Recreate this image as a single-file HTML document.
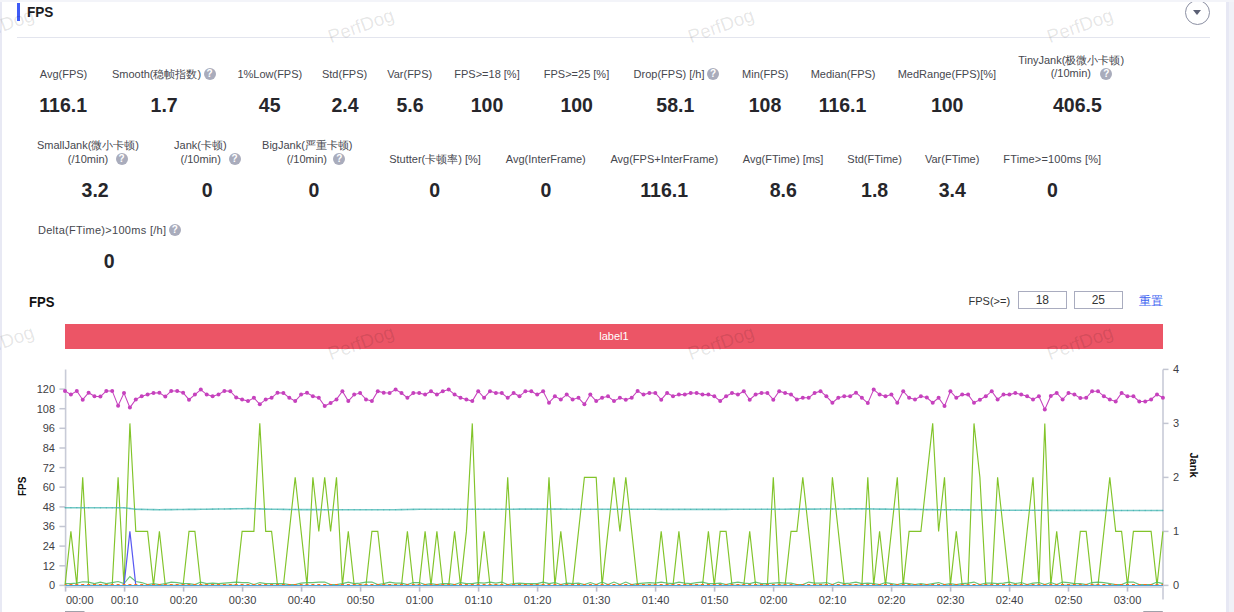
<!DOCTYPE html>
<html><head><meta charset="utf-8">
<style>
*{margin:0;padding:0;box-sizing:border-box}
html,body{width:1234px;height:612px;overflow:hidden;background:#f0f1f7;font-family:"Liberation Sans",sans-serif}
#card{position:absolute;left:2px;top:2px;width:1224px;height:612px;background:#fff}
#tstrip{position:absolute;left:0;top:0;width:1234px;height:2px;background:#f3f4f9}
#lstrip{position:absolute;left:0;top:2px;width:2px;height:610px;background:#e8e9f4}
#rstrip{position:absolute;left:1226px;top:2px;width:3px;height:610px;background:#e7e8f4}
.abs{position:absolute}
#bar{position:absolute;left:17px;top:3px;width:3px;height:18px;background:#3f5bf6}
#title{position:absolute;left:26.8px;top:3.4px;font-size:15px;transform:scaleX(0.905);transform-origin:0 0;font-weight:bold;color:#1d1d1f;line-height:18px}
#hr{position:absolute;left:17px;top:37px;width:1193px;height:1px;background:#e3e5ee}
#circ{position:absolute;left:1185px;top:-0.5px;width:25px;height:25px;border:1px solid #8c90a3;border-radius:50%}
#tri{position:absolute;left:1193px;top:10px;width:0;height:0;border-left:4px solid transparent;border-right:4px solid transparent;border-top:5px solid #5b6075}
.lb{position:absolute;text-align:center;font-size:11px;line-height:14px;color:#46474e;white-space:nowrap}
.vl{position:absolute;text-align:center;font-size:19.5px;line-height:22px;font-weight:bold;color:#26262b;white-space:nowrap}
.q{display:inline-block;width:12px;height:12px;border-radius:50%;background:#a9acbc;color:#fff;font-size:10px;font-weight:bold;line-height:12px;text-align:center;margin-left:2.5px;vertical-align:top;position:relative;top:0.8px}
.qa{position:absolute;margin:0}
#ctitle{position:absolute;left:29.2px;top:293px;transform:scaleX(0.845);transform-origin:0 0;font-size:15.5px;font-weight:bold;color:#111;line-height:18px}
#fpsge{position:absolute;left:968.5px;top:294px;font-size:11px;line-height:14px;color:#333}
.inp{position:absolute;top:291.2px;width:48.5px;height:17.8px;border:1px solid #a9acbf;font-size:12px;line-height:17.5px;text-align:center;color:#333}
#reset{position:absolute;left:1138.5px;top:294px;font-size:12px;line-height:15px;color:#3d63f0}
#lbar{position:absolute;left:65px;top:324.3px;width:1098px;height:24.7px;background:#ec5566;color:#fff;font-size:11px;line-height:24px;text-align:center}
svg{position:absolute;left:0;top:0}
.ax{font-size:11px;fill:#3e3e44}
.axn{font-size:11px;font-weight:bold;fill:#111}
.wm{position:absolute;font-size:18.7px;color:rgba(0,0,0,0.105);transform:rotate(-19.5deg);transform-origin:0 100%;white-space:nowrap;line-height:20px;pointer-events:none}
</style></head><body>
<div id="card"></div>
<div id="rstrip"></div><div id="lstrip"></div>
<div id="bar"></div><div id="title">FPS</div>
<div id="circ"></div><div id="tri"></div><div id="tstrip"></div>
<div id="hr"></div>
<div class="lb" style="left:-56.5px;top:67.3px;width:240px">Avg(FPS)</div>
<div class="vl" style="left:3.2px;top:94.0px;width:120px">116.1</div>
<div class="lb" style="left:43.8px;top:67.3px;width:240px">Smooth(稳帧指数)<span class="q">?</span></div>
<div class="vl" style="left:104.1px;top:94.0px;width:120px">1.7</div>
<div class="lb" style="left:149.8px;top:67.3px;width:240px">1%Low(FPS)</div>
<div class="vl" style="left:209.7px;top:94.0px;width:120px">45</div>
<div class="lb" style="left:224.6px;top:67.3px;width:240px">Std(FPS)</div>
<div class="vl" style="left:285.0px;top:94.0px;width:120px">2.4</div>
<div class="lb" style="left:289.7px;top:67.3px;width:240px">Var(FPS)</div>
<div class="vl" style="left:350.0px;top:94.0px;width:120px">5.6</div>
<div class="lb" style="left:367.0px;top:67.3px;width:240px">FPS&gt;=18 [%]</div>
<div class="vl" style="left:427.0px;top:94.0px;width:120px">100</div>
<div class="lb" style="left:456.5px;top:67.3px;width:240px">FPS&gt;=25 [%]</div>
<div class="vl" style="left:516.7px;top:94.0px;width:120px">100</div>
<div class="lb" style="left:556.3px;top:67.3px;width:240px">Drop(FPS) [/h]<span class="q">?</span></div>
<div class="vl" style="left:615.3px;top:94.0px;width:120px">58.1</div>
<div class="lb" style="left:645.3px;top:67.3px;width:240px">Min(FPS)</div>
<div class="vl" style="left:705.0px;top:94.0px;width:120px">108</div>
<div class="lb" style="left:723.1px;top:67.3px;width:240px">Median(FPS)</div>
<div class="vl" style="left:782.5px;top:94.0px;width:120px">116.1</div>
<div class="lb" style="left:826.9px;top:67.3px;width:240px">MedRange(FPS)[%]</div>
<div class="vl" style="left:887.2px;top:94.0px;width:120px">100</div>
<div class="lb" style="left:951.1px;top:52.7px;width:240px">TinyJank(极微小卡顿)</div>
<div class="lb" style="left:950.8px;top:66.4px;width:240px">(/10min)</div>
<span class="q qa" style="left:1100.4px;top:67.8px">?</span>
<div class="vl" style="left:1017.4px;top:94.0px;width:120px">406.5</div>
<div class="lb" style="left:-32.0px;top:137.7px;width:240px">SmallJank(微小卡顿)</div>
<div class="lb" style="left:-32.0px;top:151.9px;width:240px">(/10min)</div>
<span class="q qa" style="left:115.6px;top:152.9px">?</span>
<div class="vl" style="left:35.1px;top:179.4px;width:120px">3.2</div>
<div class="lb" style="left:80.4px;top:137.7px;width:240px">Jank(卡顿)</div>
<div class="lb" style="left:80.7px;top:151.9px;width:240px">(/10min)</div>
<span class="q qa" style="left:228.5px;top:152.9px">?</span>
<div class="vl" style="left:147.2px;top:179.4px;width:120px">0</div>
<div class="lb" style="left:187.3px;top:137.7px;width:240px">BigJank(严重卡顿)</div>
<div class="lb" style="left:186.8px;top:151.9px;width:240px">(/10min)</div>
<span class="q qa" style="left:333.4px;top:152.9px">?</span>
<div class="vl" style="left:254.0px;top:179.4px;width:120px">0</div>
<div class="lb" style="left:315.0px;top:152.4px;width:240px">Stutter(卡顿率) [%]</div>
<div class="vl" style="left:374.7px;top:179.4px;width:120px">0</div>
<div class="lb" style="left:425.8px;top:152.4px;width:240px">Avg(InterFrame)</div>
<div class="vl" style="left:485.9px;top:179.4px;width:120px">0</div>
<div class="lb" style="left:544.3px;top:152.4px;width:240px">Avg(FPS+InterFrame)</div>
<div class="vl" style="left:604.2px;top:179.4px;width:120px">116.1</div>
<div class="lb" style="left:663.1px;top:152.4px;width:240px">Avg(FTime) [ms]</div>
<div class="vl" style="left:723.3px;top:179.4px;width:120px">8.6</div>
<div class="lb" style="left:754.6px;top:152.4px;width:240px">Std(FTime)</div>
<div class="vl" style="left:814.6px;top:179.4px;width:120px">1.8</div>
<div class="lb" style="left:832.2px;top:152.4px;width:240px">Var(FTime)</div>
<div class="vl" style="left:892.3px;top:179.4px;width:120px">3.4</div>
<div class="lb" style="left:932.3px;top:152.4px;width:240px"><span style="letter-spacing:0.15px">FTime&gt;=100ms [%]</span></div>
<div class="vl" style="left:992.5px;top:179.4px;width:120px">0</div>
<div class="lb" style="left:-10.6px;top:223.1px;width:240px"><span style="letter-spacing:0.3px">Delta(FTime)&gt;100ms [/h]</span><span class="q">?</span></div>
<div class="vl" style="left:49.3px;top:250.3px;width:120px">0</div>
<div id="ctitle">FPS</div>
<div id="fpsge">FPS(&gt;=)</div>
<div class="inp" style="left:1018.1px">18</div>
<div class="inp" style="left:1074.1px">25</div>
<div id="reset">重置</div>
<div id="lbar">label1</div>
<svg width="1234" height="612" viewBox="0 0 1234 612">
<line x1="65.6" y1="369.5" x2="65.6" y2="587.5" stroke="#c8cbd7" stroke-width="1.6"/>
<line x1="1163" y1="369.4" x2="1163" y2="599.6" stroke="#c8cbd7" stroke-width="1.6"/>
<line x1="64.8" y1="587" x2="1163.8" y2="587" stroke="#d9dae3" stroke-width="1.8"/>
<line x1="59.4" y1="585.4" x2="65.6" y2="585.4" stroke="#c3c6d2" stroke-width="1.5"/>
<text x="55" y="589.3" text-anchor="end" class="ax">0</text>
<line x1="59.4" y1="565.8" x2="65.6" y2="565.8" stroke="#c3c6d2" stroke-width="1.5"/>
<text x="55" y="569.7" text-anchor="end" class="ax">12</text>
<line x1="59.4" y1="546.1" x2="65.6" y2="546.1" stroke="#c3c6d2" stroke-width="1.5"/>
<text x="55" y="550.0" text-anchor="end" class="ax">24</text>
<line x1="59.4" y1="526.5" x2="65.6" y2="526.5" stroke="#c3c6d2" stroke-width="1.5"/>
<text x="55" y="530.4" text-anchor="end" class="ax">36</text>
<line x1="59.4" y1="506.9" x2="65.6" y2="506.9" stroke="#c3c6d2" stroke-width="1.5"/>
<text x="55" y="510.8" text-anchor="end" class="ax">48</text>
<line x1="59.4" y1="487.2" x2="65.6" y2="487.2" stroke="#c3c6d2" stroke-width="1.5"/>
<text x="55" y="491.1" text-anchor="end" class="ax">60</text>
<line x1="59.4" y1="467.6" x2="65.6" y2="467.6" stroke="#c3c6d2" stroke-width="1.5"/>
<text x="55" y="471.5" text-anchor="end" class="ax">72</text>
<line x1="59.4" y1="448.0" x2="65.6" y2="448.0" stroke="#c3c6d2" stroke-width="1.5"/>
<text x="55" y="451.9" text-anchor="end" class="ax">84</text>
<line x1="59.4" y1="428.3" x2="65.6" y2="428.3" stroke="#c3c6d2" stroke-width="1.5"/>
<text x="55" y="432.2" text-anchor="end" class="ax">96</text>
<line x1="59.4" y1="408.7" x2="65.6" y2="408.7" stroke="#c3c6d2" stroke-width="1.5"/>
<text x="55" y="412.6" text-anchor="end" class="ax">108</text>
<line x1="59.4" y1="389.1" x2="65.6" y2="389.1" stroke="#c3c6d2" stroke-width="1.5"/>
<text x="55" y="393.0" text-anchor="end" class="ax">120</text>
<line x1="1163" y1="585.4" x2="1168.5" y2="585.4" stroke="#c3c6d2" stroke-width="1.5"/>
<text x="1173" y="589.3" class="ax">0</text>
<line x1="1163" y1="531.4" x2="1168.5" y2="531.4" stroke="#c3c6d2" stroke-width="1.5"/>
<text x="1173" y="535.3" class="ax">1</text>
<line x1="1163" y1="477.4" x2="1168.5" y2="477.4" stroke="#c3c6d2" stroke-width="1.5"/>
<text x="1173" y="481.3" class="ax">2</text>
<line x1="1163" y1="423.4" x2="1168.5" y2="423.4" stroke="#c3c6d2" stroke-width="1.5"/>
<text x="1173" y="427.3" class="ax">3</text>
<line x1="1163" y1="369.4" x2="1168.5" y2="369.4" stroke="#c3c6d2" stroke-width="1.5"/>
<text x="1173" y="373.3" class="ax">4</text>
<line x1="65.6" y1="586.6" x2="65.6" y2="591.6" stroke="#b9bccb" stroke-width="1.6"/>
<text x="66" y="604" class="ax">00:00</text>
<line x1="124.6" y1="586.6" x2="124.6" y2="591.6" stroke="#b9bccb" stroke-width="1.6"/>
<text x="124.6" y="604" text-anchor="middle" class="ax">00:10</text>
<line x1="183.6" y1="586.6" x2="183.6" y2="591.6" stroke="#b9bccb" stroke-width="1.6"/>
<text x="183.6" y="604" text-anchor="middle" class="ax">00:20</text>
<line x1="242.6" y1="586.6" x2="242.6" y2="591.6" stroke="#b9bccb" stroke-width="1.6"/>
<text x="242.6" y="604" text-anchor="middle" class="ax">00:30</text>
<line x1="301.6" y1="586.6" x2="301.6" y2="591.6" stroke="#b9bccb" stroke-width="1.6"/>
<text x="301.6" y="604" text-anchor="middle" class="ax">00:40</text>
<line x1="360.6" y1="586.6" x2="360.6" y2="591.6" stroke="#b9bccb" stroke-width="1.6"/>
<text x="360.6" y="604" text-anchor="middle" class="ax">00:50</text>
<line x1="419.6" y1="586.6" x2="419.6" y2="591.6" stroke="#b9bccb" stroke-width="1.6"/>
<text x="419.6" y="604" text-anchor="middle" class="ax">01:00</text>
<line x1="478.6" y1="586.6" x2="478.6" y2="591.6" stroke="#b9bccb" stroke-width="1.6"/>
<text x="478.6" y="604" text-anchor="middle" class="ax">01:10</text>
<line x1="537.6" y1="586.6" x2="537.6" y2="591.6" stroke="#b9bccb" stroke-width="1.6"/>
<text x="537.6" y="604" text-anchor="middle" class="ax">01:20</text>
<line x1="596.6" y1="586.6" x2="596.6" y2="591.6" stroke="#b9bccb" stroke-width="1.6"/>
<text x="596.6" y="604" text-anchor="middle" class="ax">01:30</text>
<line x1="655.6" y1="586.6" x2="655.6" y2="591.6" stroke="#b9bccb" stroke-width="1.6"/>
<text x="655.6" y="604" text-anchor="middle" class="ax">01:40</text>
<line x1="714.6" y1="586.6" x2="714.6" y2="591.6" stroke="#b9bccb" stroke-width="1.6"/>
<text x="714.6" y="604" text-anchor="middle" class="ax">01:50</text>
<line x1="773.6" y1="586.6" x2="773.6" y2="591.6" stroke="#b9bccb" stroke-width="1.6"/>
<text x="773.6" y="604" text-anchor="middle" class="ax">02:00</text>
<line x1="832.6" y1="586.6" x2="832.6" y2="591.6" stroke="#b9bccb" stroke-width="1.6"/>
<text x="832.6" y="604" text-anchor="middle" class="ax">02:10</text>
<line x1="891.6" y1="586.6" x2="891.6" y2="591.6" stroke="#b9bccb" stroke-width="1.6"/>
<text x="891.6" y="604" text-anchor="middle" class="ax">02:20</text>
<line x1="950.6" y1="586.6" x2="950.6" y2="591.6" stroke="#b9bccb" stroke-width="1.6"/>
<text x="950.6" y="604" text-anchor="middle" class="ax">02:30</text>
<line x1="1009.6" y1="586.6" x2="1009.6" y2="591.6" stroke="#b9bccb" stroke-width="1.6"/>
<text x="1009.6" y="604" text-anchor="middle" class="ax">02:40</text>
<line x1="1068.5" y1="586.6" x2="1068.5" y2="591.6" stroke="#b9bccb" stroke-width="1.6"/>
<text x="1068.5" y="604" text-anchor="middle" class="ax">02:50</text>
<line x1="1127.5" y1="586.6" x2="1127.5" y2="591.6" stroke="#b9bccb" stroke-width="1.6"/>
<text x="1127.5" y="604" text-anchor="middle" class="ax">03:00</text>
<polyline points="65.0,585.4 70.9,531.4 76.8,585.4 82.7,477.4 88.6,585.4 94.5,585.4 100.4,585.4 106.3,585.4 112.2,585.4 118.1,477.4 124.0,585.4 129.9,423.4 135.8,531.4 141.7,531.4 147.6,531.4 153.5,585.4 159.4,531.4 165.3,585.4 171.2,585.4 177.2,585.4 183.1,585.4 189.0,531.4 194.9,531.4 200.8,585.4 206.7,585.4 212.6,585.4 218.5,585.4 224.4,585.4 230.3,585.4 236.2,585.4 242.1,531.4 248.0,531.4 253.9,531.4 259.8,423.4 265.7,531.4 271.6,531.4 277.5,585.4 283.4,585.4 289.3,531.4 295.2,477.4 301.1,531.4 307.0,585.4 312.9,477.4 318.8,531.4 324.7,477.4 330.6,531.4 336.5,477.4 342.4,585.4 348.3,531.4 354.2,585.4 360.1,585.4 366.0,585.4 371.9,531.4 377.8,531.4 383.7,585.4 389.6,585.4 395.6,585.4 401.5,585.4 407.4,531.4 413.3,585.4 419.2,585.4 425.1,531.4 431.0,585.4 436.9,531.4 442.8,585.4 448.7,585.4 454.6,531.4 460.5,585.4 466.4,531.4 472.3,423.4 478.2,585.4 484.1,531.4 490.0,585.4 495.9,585.4 501.8,585.4 507.7,477.4 513.6,585.4 519.5,585.4 525.4,585.4 531.3,585.4 537.2,585.4 543.1,585.4 549.0,477.4 554.9,585.4 560.8,531.4 566.7,585.4 572.6,585.4 578.5,531.4 584.4,477.4 590.3,477.4 596.2,477.4 602.1,585.4 608.0,531.4 614.0,477.4 619.9,531.4 625.8,477.4 631.7,531.4 637.6,585.4 643.5,585.4 649.4,585.4 655.3,585.4 661.2,531.4 667.1,585.4 673.0,585.4 678.9,531.4 684.8,585.4 690.7,585.4 696.6,585.4 702.5,585.4 708.4,531.4 714.3,585.4 720.2,531.4 726.1,531.4 732.0,585.4 737.9,585.4 743.8,585.4 749.7,531.4 755.6,585.4 761.5,585.4 767.4,585.4 773.3,477.4 779.2,585.4 785.1,585.4 791.0,531.4 796.9,531.4 802.8,477.4 808.7,531.4 814.6,585.4 820.5,585.4 826.4,585.4 832.4,477.4 838.3,531.4 844.2,585.4 850.1,585.4 856.0,585.4 861.9,585.4 867.8,477.4 873.7,585.4 879.6,531.4 885.5,585.4 891.4,531.4 897.3,477.4 903.2,585.4 909.1,531.4 915.0,531.4 920.9,531.4 926.8,477.4 932.7,423.4 938.6,531.4 944.5,477.4 950.4,585.4 956.3,531.4 962.2,585.4 968.1,585.4 974.0,423.4 979.9,477.4 985.8,585.4 991.7,585.4 997.6,477.4 1003.5,531.4 1009.4,585.4 1015.3,585.4 1021.2,585.4 1027.1,531.4 1033.0,477.4 1038.9,585.4 1044.8,423.4 1050.8,585.4 1056.7,531.4 1062.6,585.4 1068.5,585.4 1074.4,585.4 1080.3,531.4 1086.2,531.4 1092.1,585.4 1098.0,585.4 1103.9,531.4 1109.8,477.4 1115.7,531.4 1121.6,531.4 1127.5,585.4 1133.4,531.4 1139.3,531.4 1145.2,531.4 1151.1,531.4 1157.0,585.4 1162.9,531.4" fill="none" stroke="#82c42a" stroke-width="1.15" stroke-linejoin="miter"/>
<polyline points="65.0,583.6 70.9,583.6 76.8,583.1 82.7,581.8 88.6,582.1 94.5,583.6 100.4,582.1 106.3,583.6 112.2,582.6 118.1,581.5 124.0,583.6 129.9,576.5 135.8,581.5 141.7,582.6 147.6,584.6 153.5,583.6 159.4,584.6 165.3,583.6 171.2,582.1 177.2,582.6 183.1,583.6 189.0,583.6 194.9,584.6 200.8,582.1 206.7,583.6 212.6,583.1 218.5,583.6 224.4,583.1 230.3,582.6 236.2,582.1 242.1,582.6 248.0,582.6 253.9,584.6 259.8,582.6 265.7,583.6 271.6,583.6 277.5,583.6 283.4,583.6 289.3,584.6 295.2,584.6 301.1,583.1 307.0,582.6 312.9,582.6 318.8,582.1 324.7,582.1 330.6,584.6 336.5,584.6 342.4,583.6 348.3,582.1 354.2,583.6 360.1,583.1 366.0,582.1 371.9,582.1 377.8,584.6 383.7,583.6 389.6,582.1 395.6,583.1 401.5,583.1 407.4,584.6 413.3,582.6 419.2,582.6 425.1,584.6 431.0,583.6 436.9,584.6 442.8,583.6 448.7,583.6 454.6,584.6 460.5,582.6 466.4,583.6 472.3,583.6 478.2,582.6 484.1,583.1 490.0,582.1 495.9,583.1 501.8,582.1 507.7,584.6 513.6,583.6 519.5,583.1 525.4,583.6 531.3,583.6 537.2,583.6 543.1,582.1 549.0,583.6 554.9,582.6 560.8,584.6 566.7,583.1 572.6,583.6 578.5,583.1 584.4,584.6 590.3,582.6 596.2,584.6 602.1,582.1 608.0,584.6 614.0,582.1 619.9,584.6 625.8,582.1 631.7,584.6 637.6,583.6 643.5,583.1 649.4,582.6 655.3,583.1 661.2,582.1 667.1,583.1 673.0,583.6 678.9,582.1 684.8,583.1 690.7,583.6 696.6,582.6 702.5,582.1 708.4,583.6 714.3,583.6 720.2,583.1 726.1,584.6 732.0,583.1 737.9,582.1 743.8,583.1 749.7,583.6 755.6,582.1 761.5,583.6 767.4,583.6 773.3,583.1 779.2,582.6 785.1,583.1 791.0,583.1 796.9,584.6 802.8,584.6 808.7,582.1 814.6,583.1 820.5,583.1 826.4,582.6 832.4,584.6 838.3,582.1 844.2,583.6 850.1,583.1 856.0,582.1 861.9,583.6 867.8,583.1 873.7,583.6 879.6,584.6 885.5,582.6 891.4,583.6 897.3,584.6 903.2,583.1 909.1,583.6 915.0,584.6 920.9,583.6 926.8,584.6 932.7,583.6 938.6,582.6 944.5,584.6 950.4,583.6 956.3,584.6 962.2,583.6 968.1,583.1 974.0,582.1 979.9,584.6 985.8,583.1 991.7,583.1 997.6,583.6 1003.5,583.1 1009.4,582.1 1015.3,583.6 1021.2,582.6 1027.1,584.6 1033.0,583.1 1038.9,582.6 1044.8,584.6 1050.8,582.6 1056.7,584.6 1062.6,582.1 1068.5,582.6 1074.4,583.6 1080.3,583.6 1086.2,584.6 1092.1,582.6 1098.0,582.1 1103.9,582.6 1109.8,583.6 1115.7,584.6 1121.6,584.6 1127.5,582.1 1133.4,582.1 1139.3,584.6 1145.2,584.6 1151.1,584.6 1157.0,582.1 1162.9,583.6" fill="none" stroke="#4cb860" stroke-width="1.1" stroke-opacity="0.85"/>
<polyline points="124.0,585.4 129.9,531.4 135.8,585.4" fill="none" stroke="#5959f2" stroke-width="1.2"/>
<line x1="65" y1="584.5" x2="1163" y2="584.5" stroke="#ff6d1f" stroke-width="1.1" stroke-dasharray="3,2.9027" stroke-dashoffset="1.5"/>
<line x1="65.6" y1="585.5" x2="1163" y2="585.5" stroke="#4aa3d4" stroke-width="1.1"/>
<polyline points="65.0,507.7 70.9,507.7 76.8,507.7 82.7,507.7 88.6,507.7 94.5,507.8 100.4,507.8 106.3,507.8 112.2,507.8 118.1,507.8 124.0,507.8 129.9,508.5 135.8,509.3 141.7,509.4 147.6,509.5 153.5,509.6 159.4,509.7 165.3,509.6 171.2,509.6 177.2,509.5 183.1,509.5 189.0,509.4 194.9,509.4 200.8,509.3 206.7,509.2 212.6,509.1 218.5,509.0 224.4,509.0 230.3,508.9 236.2,508.8 242.1,508.7 248.0,508.6 253.9,508.7 259.8,508.9 265.7,509.1 271.6,509.2 277.5,509.3 283.4,509.4 289.3,509.5 295.2,509.5 301.1,509.6 307.0,509.6 312.9,509.6 318.8,509.6 324.7,509.7 330.6,509.7 336.5,509.7 342.4,509.7 348.3,509.7 354.2,509.7 360.1,509.7 366.0,509.7 371.9,509.8 377.8,509.8 383.7,509.8 389.6,509.8 395.6,509.7 401.5,509.6 407.4,509.5 413.3,509.4 419.2,509.3 425.1,509.3 431.0,509.3 436.9,509.3 442.8,509.3 448.7,509.3 454.6,509.2 460.5,509.2 466.4,509.2 472.3,509.2 478.2,509.2 484.1,509.2 490.0,509.2 495.9,509.2 501.8,509.2 507.7,509.2 513.6,509.2 519.5,509.1 525.4,509.1 531.3,509.1 537.2,509.1 543.1,509.1 549.0,509.1 554.9,509.1 560.8,509.1 566.7,509.2 572.6,509.2 578.5,509.2 584.4,509.2 590.3,509.3 596.2,509.3 602.1,509.3 608.0,509.3 614.0,509.3 619.9,509.3 625.8,509.3 631.7,509.3 637.6,509.3 643.5,509.3 649.4,509.3 655.3,509.3 661.2,509.4 667.1,509.4 673.0,509.4 678.9,509.4 684.8,509.4 690.7,509.4 696.6,509.4 702.5,509.4 708.4,509.4 714.3,509.4 720.2,509.4 726.1,509.4 732.0,509.3 737.9,509.3 743.8,509.3 749.7,509.3 755.6,509.3 761.5,509.2 767.4,509.2 773.3,509.2 779.2,509.2 785.1,509.2 791.0,509.1 796.9,509.1 802.8,509.1 808.7,509.1 814.6,509.1 820.5,509.0 826.4,509.0 832.4,509.0 838.3,509.0 844.2,509.0 850.1,508.9 856.0,508.9 861.9,508.9 867.8,508.9 873.7,509.0 879.6,509.1 885.5,509.1 891.4,509.2 897.3,509.2 903.2,509.3 909.1,509.4 915.0,509.4 920.9,509.5 926.8,509.6 932.7,509.6 938.6,509.7 944.5,509.7 950.4,509.8 956.3,509.8 962.2,509.9 968.1,509.9 974.0,510.0 979.9,510.0 985.8,510.1 991.7,510.1 997.6,510.2 1003.5,510.2 1009.4,510.3 1015.3,510.3 1021.2,510.3 1027.1,510.3 1033.0,510.3 1038.9,510.3 1044.8,510.3 1050.8,510.4 1056.7,510.4 1062.6,510.4 1068.5,510.4 1074.4,510.4 1080.3,510.4 1086.2,510.4 1092.1,510.4 1098.0,510.4 1103.9,510.4 1109.8,510.4 1115.7,510.5 1121.6,510.5 1127.5,510.5 1133.4,510.5 1139.3,510.5 1145.2,510.5 1151.1,510.5 1157.0,510.5 1162.9,510.5" fill="none" stroke="#3db3b0" stroke-opacity="0.72" stroke-width="1.6"/>
<circle cx="65.0" cy="507.7" r="0.65" fill="#2faaa6" fill-opacity="0.6"/>
<circle cx="70.9" cy="507.7" r="0.65" fill="#2faaa6" fill-opacity="0.6"/>
<circle cx="76.8" cy="507.7" r="0.65" fill="#2faaa6" fill-opacity="0.6"/>
<circle cx="82.7" cy="507.7" r="0.65" fill="#2faaa6" fill-opacity="0.6"/>
<circle cx="88.6" cy="507.7" r="0.65" fill="#2faaa6" fill-opacity="0.6"/>
<circle cx="94.5" cy="507.8" r="0.65" fill="#2faaa6" fill-opacity="0.6"/>
<circle cx="100.4" cy="507.8" r="0.65" fill="#2faaa6" fill-opacity="0.6"/>
<circle cx="106.3" cy="507.8" r="0.65" fill="#2faaa6" fill-opacity="0.6"/>
<circle cx="112.2" cy="507.8" r="0.65" fill="#2faaa6" fill-opacity="0.6"/>
<circle cx="118.1" cy="507.8" r="0.65" fill="#2faaa6" fill-opacity="0.6"/>
<circle cx="124.0" cy="507.8" r="0.65" fill="#2faaa6" fill-opacity="0.6"/>
<circle cx="129.9" cy="508.5" r="0.65" fill="#2faaa6" fill-opacity="0.6"/>
<circle cx="135.8" cy="509.3" r="0.65" fill="#2faaa6" fill-opacity="0.6"/>
<circle cx="141.7" cy="509.4" r="0.65" fill="#2faaa6" fill-opacity="0.6"/>
<circle cx="147.6" cy="509.5" r="0.65" fill="#2faaa6" fill-opacity="0.6"/>
<circle cx="153.5" cy="509.6" r="0.65" fill="#2faaa6" fill-opacity="0.6"/>
<circle cx="159.4" cy="509.7" r="0.65" fill="#2faaa6" fill-opacity="0.6"/>
<circle cx="165.3" cy="509.6" r="0.65" fill="#2faaa6" fill-opacity="0.6"/>
<circle cx="171.2" cy="509.6" r="0.65" fill="#2faaa6" fill-opacity="0.6"/>
<circle cx="177.2" cy="509.5" r="0.65" fill="#2faaa6" fill-opacity="0.6"/>
<circle cx="183.1" cy="509.5" r="0.65" fill="#2faaa6" fill-opacity="0.6"/>
<circle cx="189.0" cy="509.4" r="0.65" fill="#2faaa6" fill-opacity="0.6"/>
<circle cx="194.9" cy="509.4" r="0.65" fill="#2faaa6" fill-opacity="0.6"/>
<circle cx="200.8" cy="509.3" r="0.65" fill="#2faaa6" fill-opacity="0.6"/>
<circle cx="206.7" cy="509.2" r="0.65" fill="#2faaa6" fill-opacity="0.6"/>
<circle cx="212.6" cy="509.1" r="0.65" fill="#2faaa6" fill-opacity="0.6"/>
<circle cx="218.5" cy="509.0" r="0.65" fill="#2faaa6" fill-opacity="0.6"/>
<circle cx="224.4" cy="509.0" r="0.65" fill="#2faaa6" fill-opacity="0.6"/>
<circle cx="230.3" cy="508.9" r="0.65" fill="#2faaa6" fill-opacity="0.6"/>
<circle cx="236.2" cy="508.8" r="0.65" fill="#2faaa6" fill-opacity="0.6"/>
<circle cx="242.1" cy="508.7" r="0.65" fill="#2faaa6" fill-opacity="0.6"/>
<circle cx="248.0" cy="508.6" r="0.65" fill="#2faaa6" fill-opacity="0.6"/>
<circle cx="253.9" cy="508.7" r="0.65" fill="#2faaa6" fill-opacity="0.6"/>
<circle cx="259.8" cy="508.9" r="0.65" fill="#2faaa6" fill-opacity="0.6"/>
<circle cx="265.7" cy="509.1" r="0.65" fill="#2faaa6" fill-opacity="0.6"/>
<circle cx="271.6" cy="509.2" r="0.65" fill="#2faaa6" fill-opacity="0.6"/>
<circle cx="277.5" cy="509.3" r="0.65" fill="#2faaa6" fill-opacity="0.6"/>
<circle cx="283.4" cy="509.4" r="0.65" fill="#2faaa6" fill-opacity="0.6"/>
<circle cx="289.3" cy="509.5" r="0.65" fill="#2faaa6" fill-opacity="0.6"/>
<circle cx="295.2" cy="509.5" r="0.65" fill="#2faaa6" fill-opacity="0.6"/>
<circle cx="301.1" cy="509.6" r="0.65" fill="#2faaa6" fill-opacity="0.6"/>
<circle cx="307.0" cy="509.6" r="0.65" fill="#2faaa6" fill-opacity="0.6"/>
<circle cx="312.9" cy="509.6" r="0.65" fill="#2faaa6" fill-opacity="0.6"/>
<circle cx="318.8" cy="509.6" r="0.65" fill="#2faaa6" fill-opacity="0.6"/>
<circle cx="324.7" cy="509.7" r="0.65" fill="#2faaa6" fill-opacity="0.6"/>
<circle cx="330.6" cy="509.7" r="0.65" fill="#2faaa6" fill-opacity="0.6"/>
<circle cx="336.5" cy="509.7" r="0.65" fill="#2faaa6" fill-opacity="0.6"/>
<circle cx="342.4" cy="509.7" r="0.65" fill="#2faaa6" fill-opacity="0.6"/>
<circle cx="348.3" cy="509.7" r="0.65" fill="#2faaa6" fill-opacity="0.6"/>
<circle cx="354.2" cy="509.7" r="0.65" fill="#2faaa6" fill-opacity="0.6"/>
<circle cx="360.1" cy="509.7" r="0.65" fill="#2faaa6" fill-opacity="0.6"/>
<circle cx="366.0" cy="509.7" r="0.65" fill="#2faaa6" fill-opacity="0.6"/>
<circle cx="371.9" cy="509.8" r="0.65" fill="#2faaa6" fill-opacity="0.6"/>
<circle cx="377.8" cy="509.8" r="0.65" fill="#2faaa6" fill-opacity="0.6"/>
<circle cx="383.7" cy="509.8" r="0.65" fill="#2faaa6" fill-opacity="0.6"/>
<circle cx="389.6" cy="509.8" r="0.65" fill="#2faaa6" fill-opacity="0.6"/>
<circle cx="395.6" cy="509.7" r="0.65" fill="#2faaa6" fill-opacity="0.6"/>
<circle cx="401.5" cy="509.6" r="0.65" fill="#2faaa6" fill-opacity="0.6"/>
<circle cx="407.4" cy="509.5" r="0.65" fill="#2faaa6" fill-opacity="0.6"/>
<circle cx="413.3" cy="509.4" r="0.65" fill="#2faaa6" fill-opacity="0.6"/>
<circle cx="419.2" cy="509.3" r="0.65" fill="#2faaa6" fill-opacity="0.6"/>
<circle cx="425.1" cy="509.3" r="0.65" fill="#2faaa6" fill-opacity="0.6"/>
<circle cx="431.0" cy="509.3" r="0.65" fill="#2faaa6" fill-opacity="0.6"/>
<circle cx="436.9" cy="509.3" r="0.65" fill="#2faaa6" fill-opacity="0.6"/>
<circle cx="442.8" cy="509.3" r="0.65" fill="#2faaa6" fill-opacity="0.6"/>
<circle cx="448.7" cy="509.3" r="0.65" fill="#2faaa6" fill-opacity="0.6"/>
<circle cx="454.6" cy="509.2" r="0.65" fill="#2faaa6" fill-opacity="0.6"/>
<circle cx="460.5" cy="509.2" r="0.65" fill="#2faaa6" fill-opacity="0.6"/>
<circle cx="466.4" cy="509.2" r="0.65" fill="#2faaa6" fill-opacity="0.6"/>
<circle cx="472.3" cy="509.2" r="0.65" fill="#2faaa6" fill-opacity="0.6"/>
<circle cx="478.2" cy="509.2" r="0.65" fill="#2faaa6" fill-opacity="0.6"/>
<circle cx="484.1" cy="509.2" r="0.65" fill="#2faaa6" fill-opacity="0.6"/>
<circle cx="490.0" cy="509.2" r="0.65" fill="#2faaa6" fill-opacity="0.6"/>
<circle cx="495.9" cy="509.2" r="0.65" fill="#2faaa6" fill-opacity="0.6"/>
<circle cx="501.8" cy="509.2" r="0.65" fill="#2faaa6" fill-opacity="0.6"/>
<circle cx="507.7" cy="509.2" r="0.65" fill="#2faaa6" fill-opacity="0.6"/>
<circle cx="513.6" cy="509.2" r="0.65" fill="#2faaa6" fill-opacity="0.6"/>
<circle cx="519.5" cy="509.1" r="0.65" fill="#2faaa6" fill-opacity="0.6"/>
<circle cx="525.4" cy="509.1" r="0.65" fill="#2faaa6" fill-opacity="0.6"/>
<circle cx="531.3" cy="509.1" r="0.65" fill="#2faaa6" fill-opacity="0.6"/>
<circle cx="537.2" cy="509.1" r="0.65" fill="#2faaa6" fill-opacity="0.6"/>
<circle cx="543.1" cy="509.1" r="0.65" fill="#2faaa6" fill-opacity="0.6"/>
<circle cx="549.0" cy="509.1" r="0.65" fill="#2faaa6" fill-opacity="0.6"/>
<circle cx="554.9" cy="509.1" r="0.65" fill="#2faaa6" fill-opacity="0.6"/>
<circle cx="560.8" cy="509.1" r="0.65" fill="#2faaa6" fill-opacity="0.6"/>
<circle cx="566.7" cy="509.2" r="0.65" fill="#2faaa6" fill-opacity="0.6"/>
<circle cx="572.6" cy="509.2" r="0.65" fill="#2faaa6" fill-opacity="0.6"/>
<circle cx="578.5" cy="509.2" r="0.65" fill="#2faaa6" fill-opacity="0.6"/>
<circle cx="584.4" cy="509.2" r="0.65" fill="#2faaa6" fill-opacity="0.6"/>
<circle cx="590.3" cy="509.3" r="0.65" fill="#2faaa6" fill-opacity="0.6"/>
<circle cx="596.2" cy="509.3" r="0.65" fill="#2faaa6" fill-opacity="0.6"/>
<circle cx="602.1" cy="509.3" r="0.65" fill="#2faaa6" fill-opacity="0.6"/>
<circle cx="608.0" cy="509.3" r="0.65" fill="#2faaa6" fill-opacity="0.6"/>
<circle cx="614.0" cy="509.3" r="0.65" fill="#2faaa6" fill-opacity="0.6"/>
<circle cx="619.9" cy="509.3" r="0.65" fill="#2faaa6" fill-opacity="0.6"/>
<circle cx="625.8" cy="509.3" r="0.65" fill="#2faaa6" fill-opacity="0.6"/>
<circle cx="631.7" cy="509.3" r="0.65" fill="#2faaa6" fill-opacity="0.6"/>
<circle cx="637.6" cy="509.3" r="0.65" fill="#2faaa6" fill-opacity="0.6"/>
<circle cx="643.5" cy="509.3" r="0.65" fill="#2faaa6" fill-opacity="0.6"/>
<circle cx="649.4" cy="509.3" r="0.65" fill="#2faaa6" fill-opacity="0.6"/>
<circle cx="655.3" cy="509.3" r="0.65" fill="#2faaa6" fill-opacity="0.6"/>
<circle cx="661.2" cy="509.4" r="0.65" fill="#2faaa6" fill-opacity="0.6"/>
<circle cx="667.1" cy="509.4" r="0.65" fill="#2faaa6" fill-opacity="0.6"/>
<circle cx="673.0" cy="509.4" r="0.65" fill="#2faaa6" fill-opacity="0.6"/>
<circle cx="678.9" cy="509.4" r="0.65" fill="#2faaa6" fill-opacity="0.6"/>
<circle cx="684.8" cy="509.4" r="0.65" fill="#2faaa6" fill-opacity="0.6"/>
<circle cx="690.7" cy="509.4" r="0.65" fill="#2faaa6" fill-opacity="0.6"/>
<circle cx="696.6" cy="509.4" r="0.65" fill="#2faaa6" fill-opacity="0.6"/>
<circle cx="702.5" cy="509.4" r="0.65" fill="#2faaa6" fill-opacity="0.6"/>
<circle cx="708.4" cy="509.4" r="0.65" fill="#2faaa6" fill-opacity="0.6"/>
<circle cx="714.3" cy="509.4" r="0.65" fill="#2faaa6" fill-opacity="0.6"/>
<circle cx="720.2" cy="509.4" r="0.65" fill="#2faaa6" fill-opacity="0.6"/>
<circle cx="726.1" cy="509.4" r="0.65" fill="#2faaa6" fill-opacity="0.6"/>
<circle cx="732.0" cy="509.3" r="0.65" fill="#2faaa6" fill-opacity="0.6"/>
<circle cx="737.9" cy="509.3" r="0.65" fill="#2faaa6" fill-opacity="0.6"/>
<circle cx="743.8" cy="509.3" r="0.65" fill="#2faaa6" fill-opacity="0.6"/>
<circle cx="749.7" cy="509.3" r="0.65" fill="#2faaa6" fill-opacity="0.6"/>
<circle cx="755.6" cy="509.3" r="0.65" fill="#2faaa6" fill-opacity="0.6"/>
<circle cx="761.5" cy="509.2" r="0.65" fill="#2faaa6" fill-opacity="0.6"/>
<circle cx="767.4" cy="509.2" r="0.65" fill="#2faaa6" fill-opacity="0.6"/>
<circle cx="773.3" cy="509.2" r="0.65" fill="#2faaa6" fill-opacity="0.6"/>
<circle cx="779.2" cy="509.2" r="0.65" fill="#2faaa6" fill-opacity="0.6"/>
<circle cx="785.1" cy="509.2" r="0.65" fill="#2faaa6" fill-opacity="0.6"/>
<circle cx="791.0" cy="509.1" r="0.65" fill="#2faaa6" fill-opacity="0.6"/>
<circle cx="796.9" cy="509.1" r="0.65" fill="#2faaa6" fill-opacity="0.6"/>
<circle cx="802.8" cy="509.1" r="0.65" fill="#2faaa6" fill-opacity="0.6"/>
<circle cx="808.7" cy="509.1" r="0.65" fill="#2faaa6" fill-opacity="0.6"/>
<circle cx="814.6" cy="509.1" r="0.65" fill="#2faaa6" fill-opacity="0.6"/>
<circle cx="820.5" cy="509.0" r="0.65" fill="#2faaa6" fill-opacity="0.6"/>
<circle cx="826.4" cy="509.0" r="0.65" fill="#2faaa6" fill-opacity="0.6"/>
<circle cx="832.4" cy="509.0" r="0.65" fill="#2faaa6" fill-opacity="0.6"/>
<circle cx="838.3" cy="509.0" r="0.65" fill="#2faaa6" fill-opacity="0.6"/>
<circle cx="844.2" cy="509.0" r="0.65" fill="#2faaa6" fill-opacity="0.6"/>
<circle cx="850.1" cy="508.9" r="0.65" fill="#2faaa6" fill-opacity="0.6"/>
<circle cx="856.0" cy="508.9" r="0.65" fill="#2faaa6" fill-opacity="0.6"/>
<circle cx="861.9" cy="508.9" r="0.65" fill="#2faaa6" fill-opacity="0.6"/>
<circle cx="867.8" cy="508.9" r="0.65" fill="#2faaa6" fill-opacity="0.6"/>
<circle cx="873.7" cy="509.0" r="0.65" fill="#2faaa6" fill-opacity="0.6"/>
<circle cx="879.6" cy="509.1" r="0.65" fill="#2faaa6" fill-opacity="0.6"/>
<circle cx="885.5" cy="509.1" r="0.65" fill="#2faaa6" fill-opacity="0.6"/>
<circle cx="891.4" cy="509.2" r="0.65" fill="#2faaa6" fill-opacity="0.6"/>
<circle cx="897.3" cy="509.2" r="0.65" fill="#2faaa6" fill-opacity="0.6"/>
<circle cx="903.2" cy="509.3" r="0.65" fill="#2faaa6" fill-opacity="0.6"/>
<circle cx="909.1" cy="509.4" r="0.65" fill="#2faaa6" fill-opacity="0.6"/>
<circle cx="915.0" cy="509.4" r="0.65" fill="#2faaa6" fill-opacity="0.6"/>
<circle cx="920.9" cy="509.5" r="0.65" fill="#2faaa6" fill-opacity="0.6"/>
<circle cx="926.8" cy="509.6" r="0.65" fill="#2faaa6" fill-opacity="0.6"/>
<circle cx="932.7" cy="509.6" r="0.65" fill="#2faaa6" fill-opacity="0.6"/>
<circle cx="938.6" cy="509.7" r="0.65" fill="#2faaa6" fill-opacity="0.6"/>
<circle cx="944.5" cy="509.7" r="0.65" fill="#2faaa6" fill-opacity="0.6"/>
<circle cx="950.4" cy="509.8" r="0.65" fill="#2faaa6" fill-opacity="0.6"/>
<circle cx="956.3" cy="509.8" r="0.65" fill="#2faaa6" fill-opacity="0.6"/>
<circle cx="962.2" cy="509.9" r="0.65" fill="#2faaa6" fill-opacity="0.6"/>
<circle cx="968.1" cy="509.9" r="0.65" fill="#2faaa6" fill-opacity="0.6"/>
<circle cx="974.0" cy="510.0" r="0.65" fill="#2faaa6" fill-opacity="0.6"/>
<circle cx="979.9" cy="510.0" r="0.65" fill="#2faaa6" fill-opacity="0.6"/>
<circle cx="985.8" cy="510.1" r="0.65" fill="#2faaa6" fill-opacity="0.6"/>
<circle cx="991.7" cy="510.1" r="0.65" fill="#2faaa6" fill-opacity="0.6"/>
<circle cx="997.6" cy="510.2" r="0.65" fill="#2faaa6" fill-opacity="0.6"/>
<circle cx="1003.5" cy="510.2" r="0.65" fill="#2faaa6" fill-opacity="0.6"/>
<circle cx="1009.4" cy="510.3" r="0.65" fill="#2faaa6" fill-opacity="0.6"/>
<circle cx="1015.3" cy="510.3" r="0.65" fill="#2faaa6" fill-opacity="0.6"/>
<circle cx="1021.2" cy="510.3" r="0.65" fill="#2faaa6" fill-opacity="0.6"/>
<circle cx="1027.1" cy="510.3" r="0.65" fill="#2faaa6" fill-opacity="0.6"/>
<circle cx="1033.0" cy="510.3" r="0.65" fill="#2faaa6" fill-opacity="0.6"/>
<circle cx="1038.9" cy="510.3" r="0.65" fill="#2faaa6" fill-opacity="0.6"/>
<circle cx="1044.8" cy="510.3" r="0.65" fill="#2faaa6" fill-opacity="0.6"/>
<circle cx="1050.8" cy="510.4" r="0.65" fill="#2faaa6" fill-opacity="0.6"/>
<circle cx="1056.7" cy="510.4" r="0.65" fill="#2faaa6" fill-opacity="0.6"/>
<circle cx="1062.6" cy="510.4" r="0.65" fill="#2faaa6" fill-opacity="0.6"/>
<circle cx="1068.5" cy="510.4" r="0.65" fill="#2faaa6" fill-opacity="0.6"/>
<circle cx="1074.4" cy="510.4" r="0.65" fill="#2faaa6" fill-opacity="0.6"/>
<circle cx="1080.3" cy="510.4" r="0.65" fill="#2faaa6" fill-opacity="0.6"/>
<circle cx="1086.2" cy="510.4" r="0.65" fill="#2faaa6" fill-opacity="0.6"/>
<circle cx="1092.1" cy="510.4" r="0.65" fill="#2faaa6" fill-opacity="0.6"/>
<circle cx="1098.0" cy="510.4" r="0.65" fill="#2faaa6" fill-opacity="0.6"/>
<circle cx="1103.9" cy="510.4" r="0.65" fill="#2faaa6" fill-opacity="0.6"/>
<circle cx="1109.8" cy="510.4" r="0.65" fill="#2faaa6" fill-opacity="0.6"/>
<circle cx="1115.7" cy="510.5" r="0.65" fill="#2faaa6" fill-opacity="0.6"/>
<circle cx="1121.6" cy="510.5" r="0.65" fill="#2faaa6" fill-opacity="0.6"/>
<circle cx="1127.5" cy="510.5" r="0.65" fill="#2faaa6" fill-opacity="0.6"/>
<circle cx="1133.4" cy="510.5" r="0.65" fill="#2faaa6" fill-opacity="0.6"/>
<circle cx="1139.3" cy="510.5" r="0.65" fill="#2faaa6" fill-opacity="0.6"/>
<circle cx="1145.2" cy="510.5" r="0.65" fill="#2faaa6" fill-opacity="0.6"/>
<circle cx="1151.1" cy="510.5" r="0.65" fill="#2faaa6" fill-opacity="0.6"/>
<circle cx="1157.0" cy="510.5" r="0.65" fill="#2faaa6" fill-opacity="0.6"/>
<circle cx="1162.9" cy="510.5" r="0.65" fill="#2faaa6" fill-opacity="0.6"/>
<polyline points="65.0,390.9 70.9,394.6 76.8,390.9 82.7,399.7 88.6,392.7 94.5,396.3 100.4,396.6 106.3,390.9 112.2,390.9 118.1,405.7 124.0,393.0 129.9,407.6 135.8,399.4 141.7,396.3 147.6,394.4 153.5,393.0 159.4,392.7 165.3,396.6 171.2,390.9 177.2,390.9 183.1,392.7 189.0,399.7 194.9,394.6 200.8,389.6 206.7,394.6 212.6,396.3 218.5,394.6 224.4,390.9 230.3,391.2 236.2,397.6 242.1,399.4 248.0,401.1 253.9,397.8 259.8,404.3 265.7,399.4 271.6,397.8 277.5,392.7 283.4,393.0 289.3,397.8 295.2,401.1 301.1,394.6 307.0,392.7 312.9,396.3 318.8,397.8 324.7,406.0 330.6,403.0 336.5,399.4 342.4,391.2 348.3,401.1 354.2,394.6 360.1,393.0 366.0,399.4 371.9,401.1 377.8,391.2 383.7,392.7 389.6,393.0 395.6,389.6 401.5,393.0 407.4,397.8 413.3,393.0 419.2,393.0 425.1,394.6 431.0,391.2 436.9,394.6 442.8,391.2 448.7,389.6 454.6,394.6 460.5,397.8 466.4,399.4 472.3,401.1 478.2,391.2 484.1,397.8 490.0,391.2 495.9,393.0 501.8,393.0 507.7,397.8 513.6,393.0 519.5,396.3 525.4,391.2 531.3,391.2 537.2,394.6 543.1,391.2 549.0,402.7 554.9,396.3 560.8,399.4 566.7,394.6 572.6,399.4 578.5,397.8 584.4,404.3 590.3,394.6 596.2,401.1 602.1,397.8 608.0,396.3 614.0,401.1 619.9,397.8 625.8,399.7 631.7,397.8 637.6,390.9 643.5,394.6 649.4,393.0 655.3,393.0 661.2,399.7 667.1,393.0 673.0,396.3 678.9,394.6 684.8,394.6 690.7,393.0 696.6,393.0 702.5,394.6 708.4,394.6 714.3,396.3 720.2,401.1 726.1,396.3 732.0,393.0 737.9,394.6 743.8,391.2 749.7,399.7 755.6,394.6 761.5,393.0 767.4,393.0 773.3,399.7 779.2,391.2 785.1,393.0 791.0,394.6 796.9,399.4 802.8,397.8 808.7,397.8 814.6,393.0 820.5,391.2 826.4,396.3 832.4,402.7 838.3,397.8 844.2,396.3 850.1,396.3 856.0,392.7 861.9,397.8 867.8,403.1 873.7,389.6 879.6,394.6 885.5,396.3 891.4,394.6 897.3,402.7 903.2,391.2 909.1,397.8 915.0,399.4 920.9,396.3 926.8,397.5 932.7,402.7 938.6,397.8 944.5,406.1 950.4,391.2 956.3,397.8 962.2,394.6 968.1,394.6 974.0,402.7 979.9,399.7 985.8,396.3 991.7,391.2 997.6,399.4 1003.5,394.6 1009.4,394.6 1015.3,393.0 1021.2,394.6 1027.1,396.3 1033.0,399.4 1038.9,396.3 1044.8,409.4 1050.8,396.0 1056.7,393.0 1062.6,399.5 1068.5,393.0 1074.4,394.4 1080.3,398.1 1086.2,397.8 1092.1,391.2 1098.0,391.2 1103.9,396.3 1109.8,399.5 1115.7,401.4 1121.6,393.0 1127.5,396.3 1133.4,396.3 1139.3,401.4 1145.2,401.4 1151.1,399.5 1157.0,394.4 1162.9,397.8" fill="none" stroke="#c641bd" stroke-width="1.05"/>
<circle cx="65.0" cy="390.9" r="2.0" fill="#c641bd"/>
<circle cx="70.9" cy="394.6" r="2.0" fill="#c641bd"/>
<circle cx="76.8" cy="390.9" r="2.0" fill="#c641bd"/>
<circle cx="82.7" cy="399.7" r="2.0" fill="#c641bd"/>
<circle cx="88.6" cy="392.7" r="2.0" fill="#c641bd"/>
<circle cx="94.5" cy="396.3" r="2.0" fill="#c641bd"/>
<circle cx="100.4" cy="396.6" r="2.0" fill="#c641bd"/>
<circle cx="106.3" cy="390.9" r="2.0" fill="#c641bd"/>
<circle cx="112.2" cy="390.9" r="2.0" fill="#c641bd"/>
<circle cx="118.1" cy="405.7" r="2.0" fill="#c641bd"/>
<circle cx="124.0" cy="393.0" r="2.0" fill="#c641bd"/>
<circle cx="129.9" cy="407.6" r="2.0" fill="#c641bd"/>
<circle cx="135.8" cy="399.4" r="2.0" fill="#c641bd"/>
<circle cx="141.7" cy="396.3" r="2.0" fill="#c641bd"/>
<circle cx="147.6" cy="394.4" r="2.0" fill="#c641bd"/>
<circle cx="153.5" cy="393.0" r="2.0" fill="#c641bd"/>
<circle cx="159.4" cy="392.7" r="2.0" fill="#c641bd"/>
<circle cx="165.3" cy="396.6" r="2.0" fill="#c641bd"/>
<circle cx="171.2" cy="390.9" r="2.0" fill="#c641bd"/>
<circle cx="177.2" cy="390.9" r="2.0" fill="#c641bd"/>
<circle cx="183.1" cy="392.7" r="2.0" fill="#c641bd"/>
<circle cx="189.0" cy="399.7" r="2.0" fill="#c641bd"/>
<circle cx="194.9" cy="394.6" r="2.0" fill="#c641bd"/>
<circle cx="200.8" cy="389.6" r="2.0" fill="#c641bd"/>
<circle cx="206.7" cy="394.6" r="2.0" fill="#c641bd"/>
<circle cx="212.6" cy="396.3" r="2.0" fill="#c641bd"/>
<circle cx="218.5" cy="394.6" r="2.0" fill="#c641bd"/>
<circle cx="224.4" cy="390.9" r="2.0" fill="#c641bd"/>
<circle cx="230.3" cy="391.2" r="2.0" fill="#c641bd"/>
<circle cx="236.2" cy="397.6" r="2.0" fill="#c641bd"/>
<circle cx="242.1" cy="399.4" r="2.0" fill="#c641bd"/>
<circle cx="248.0" cy="401.1" r="2.0" fill="#c641bd"/>
<circle cx="253.9" cy="397.8" r="2.0" fill="#c641bd"/>
<circle cx="259.8" cy="404.3" r="2.0" fill="#c641bd"/>
<circle cx="265.7" cy="399.4" r="2.0" fill="#c641bd"/>
<circle cx="271.6" cy="397.8" r="2.0" fill="#c641bd"/>
<circle cx="277.5" cy="392.7" r="2.0" fill="#c641bd"/>
<circle cx="283.4" cy="393.0" r="2.0" fill="#c641bd"/>
<circle cx="289.3" cy="397.8" r="2.0" fill="#c641bd"/>
<circle cx="295.2" cy="401.1" r="2.0" fill="#c641bd"/>
<circle cx="301.1" cy="394.6" r="2.0" fill="#c641bd"/>
<circle cx="307.0" cy="392.7" r="2.0" fill="#c641bd"/>
<circle cx="312.9" cy="396.3" r="2.0" fill="#c641bd"/>
<circle cx="318.8" cy="397.8" r="2.0" fill="#c641bd"/>
<circle cx="324.7" cy="406.0" r="2.0" fill="#c641bd"/>
<circle cx="330.6" cy="403.0" r="2.0" fill="#c641bd"/>
<circle cx="336.5" cy="399.4" r="2.0" fill="#c641bd"/>
<circle cx="342.4" cy="391.2" r="2.0" fill="#c641bd"/>
<circle cx="348.3" cy="401.1" r="2.0" fill="#c641bd"/>
<circle cx="354.2" cy="394.6" r="2.0" fill="#c641bd"/>
<circle cx="360.1" cy="393.0" r="2.0" fill="#c641bd"/>
<circle cx="366.0" cy="399.4" r="2.0" fill="#c641bd"/>
<circle cx="371.9" cy="401.1" r="2.0" fill="#c641bd"/>
<circle cx="377.8" cy="391.2" r="2.0" fill="#c641bd"/>
<circle cx="383.7" cy="392.7" r="2.0" fill="#c641bd"/>
<circle cx="389.6" cy="393.0" r="2.0" fill="#c641bd"/>
<circle cx="395.6" cy="389.6" r="2.0" fill="#c641bd"/>
<circle cx="401.5" cy="393.0" r="2.0" fill="#c641bd"/>
<circle cx="407.4" cy="397.8" r="2.0" fill="#c641bd"/>
<circle cx="413.3" cy="393.0" r="2.0" fill="#c641bd"/>
<circle cx="419.2" cy="393.0" r="2.0" fill="#c641bd"/>
<circle cx="425.1" cy="394.6" r="2.0" fill="#c641bd"/>
<circle cx="431.0" cy="391.2" r="2.0" fill="#c641bd"/>
<circle cx="436.9" cy="394.6" r="2.0" fill="#c641bd"/>
<circle cx="442.8" cy="391.2" r="2.0" fill="#c641bd"/>
<circle cx="448.7" cy="389.6" r="2.0" fill="#c641bd"/>
<circle cx="454.6" cy="394.6" r="2.0" fill="#c641bd"/>
<circle cx="460.5" cy="397.8" r="2.0" fill="#c641bd"/>
<circle cx="466.4" cy="399.4" r="2.0" fill="#c641bd"/>
<circle cx="472.3" cy="401.1" r="2.0" fill="#c641bd"/>
<circle cx="478.2" cy="391.2" r="2.0" fill="#c641bd"/>
<circle cx="484.1" cy="397.8" r="2.0" fill="#c641bd"/>
<circle cx="490.0" cy="391.2" r="2.0" fill="#c641bd"/>
<circle cx="495.9" cy="393.0" r="2.0" fill="#c641bd"/>
<circle cx="501.8" cy="393.0" r="2.0" fill="#c641bd"/>
<circle cx="507.7" cy="397.8" r="2.0" fill="#c641bd"/>
<circle cx="513.6" cy="393.0" r="2.0" fill="#c641bd"/>
<circle cx="519.5" cy="396.3" r="2.0" fill="#c641bd"/>
<circle cx="525.4" cy="391.2" r="2.0" fill="#c641bd"/>
<circle cx="531.3" cy="391.2" r="2.0" fill="#c641bd"/>
<circle cx="537.2" cy="394.6" r="2.0" fill="#c641bd"/>
<circle cx="543.1" cy="391.2" r="2.0" fill="#c641bd"/>
<circle cx="549.0" cy="402.7" r="2.0" fill="#c641bd"/>
<circle cx="554.9" cy="396.3" r="2.0" fill="#c641bd"/>
<circle cx="560.8" cy="399.4" r="2.0" fill="#c641bd"/>
<circle cx="566.7" cy="394.6" r="2.0" fill="#c641bd"/>
<circle cx="572.6" cy="399.4" r="2.0" fill="#c641bd"/>
<circle cx="578.5" cy="397.8" r="2.0" fill="#c641bd"/>
<circle cx="584.4" cy="404.3" r="2.0" fill="#c641bd"/>
<circle cx="590.3" cy="394.6" r="2.0" fill="#c641bd"/>
<circle cx="596.2" cy="401.1" r="2.0" fill="#c641bd"/>
<circle cx="602.1" cy="397.8" r="2.0" fill="#c641bd"/>
<circle cx="608.0" cy="396.3" r="2.0" fill="#c641bd"/>
<circle cx="614.0" cy="401.1" r="2.0" fill="#c641bd"/>
<circle cx="619.9" cy="397.8" r="2.0" fill="#c641bd"/>
<circle cx="625.8" cy="399.7" r="2.0" fill="#c641bd"/>
<circle cx="631.7" cy="397.8" r="2.0" fill="#c641bd"/>
<circle cx="637.6" cy="390.9" r="2.0" fill="#c641bd"/>
<circle cx="643.5" cy="394.6" r="2.0" fill="#c641bd"/>
<circle cx="649.4" cy="393.0" r="2.0" fill="#c641bd"/>
<circle cx="655.3" cy="393.0" r="2.0" fill="#c641bd"/>
<circle cx="661.2" cy="399.7" r="2.0" fill="#c641bd"/>
<circle cx="667.1" cy="393.0" r="2.0" fill="#c641bd"/>
<circle cx="673.0" cy="396.3" r="2.0" fill="#c641bd"/>
<circle cx="678.9" cy="394.6" r="2.0" fill="#c641bd"/>
<circle cx="684.8" cy="394.6" r="2.0" fill="#c641bd"/>
<circle cx="690.7" cy="393.0" r="2.0" fill="#c641bd"/>
<circle cx="696.6" cy="393.0" r="2.0" fill="#c641bd"/>
<circle cx="702.5" cy="394.6" r="2.0" fill="#c641bd"/>
<circle cx="708.4" cy="394.6" r="2.0" fill="#c641bd"/>
<circle cx="714.3" cy="396.3" r="2.0" fill="#c641bd"/>
<circle cx="720.2" cy="401.1" r="2.0" fill="#c641bd"/>
<circle cx="726.1" cy="396.3" r="2.0" fill="#c641bd"/>
<circle cx="732.0" cy="393.0" r="2.0" fill="#c641bd"/>
<circle cx="737.9" cy="394.6" r="2.0" fill="#c641bd"/>
<circle cx="743.8" cy="391.2" r="2.0" fill="#c641bd"/>
<circle cx="749.7" cy="399.7" r="2.0" fill="#c641bd"/>
<circle cx="755.6" cy="394.6" r="2.0" fill="#c641bd"/>
<circle cx="761.5" cy="393.0" r="2.0" fill="#c641bd"/>
<circle cx="767.4" cy="393.0" r="2.0" fill="#c641bd"/>
<circle cx="773.3" cy="399.7" r="2.0" fill="#c641bd"/>
<circle cx="779.2" cy="391.2" r="2.0" fill="#c641bd"/>
<circle cx="785.1" cy="393.0" r="2.0" fill="#c641bd"/>
<circle cx="791.0" cy="394.6" r="2.0" fill="#c641bd"/>
<circle cx="796.9" cy="399.4" r="2.0" fill="#c641bd"/>
<circle cx="802.8" cy="397.8" r="2.0" fill="#c641bd"/>
<circle cx="808.7" cy="397.8" r="2.0" fill="#c641bd"/>
<circle cx="814.6" cy="393.0" r="2.0" fill="#c641bd"/>
<circle cx="820.5" cy="391.2" r="2.0" fill="#c641bd"/>
<circle cx="826.4" cy="396.3" r="2.0" fill="#c641bd"/>
<circle cx="832.4" cy="402.7" r="2.0" fill="#c641bd"/>
<circle cx="838.3" cy="397.8" r="2.0" fill="#c641bd"/>
<circle cx="844.2" cy="396.3" r="2.0" fill="#c641bd"/>
<circle cx="850.1" cy="396.3" r="2.0" fill="#c641bd"/>
<circle cx="856.0" cy="392.7" r="2.0" fill="#c641bd"/>
<circle cx="861.9" cy="397.8" r="2.0" fill="#c641bd"/>
<circle cx="867.8" cy="403.1" r="2.0" fill="#c641bd"/>
<circle cx="873.7" cy="389.6" r="2.0" fill="#c641bd"/>
<circle cx="879.6" cy="394.6" r="2.0" fill="#c641bd"/>
<circle cx="885.5" cy="396.3" r="2.0" fill="#c641bd"/>
<circle cx="891.4" cy="394.6" r="2.0" fill="#c641bd"/>
<circle cx="897.3" cy="402.7" r="2.0" fill="#c641bd"/>
<circle cx="903.2" cy="391.2" r="2.0" fill="#c641bd"/>
<circle cx="909.1" cy="397.8" r="2.0" fill="#c641bd"/>
<circle cx="915.0" cy="399.4" r="2.0" fill="#c641bd"/>
<circle cx="920.9" cy="396.3" r="2.0" fill="#c641bd"/>
<circle cx="926.8" cy="397.5" r="2.0" fill="#c641bd"/>
<circle cx="932.7" cy="402.7" r="2.0" fill="#c641bd"/>
<circle cx="938.6" cy="397.8" r="2.0" fill="#c641bd"/>
<circle cx="944.5" cy="406.1" r="2.0" fill="#c641bd"/>
<circle cx="950.4" cy="391.2" r="2.0" fill="#c641bd"/>
<circle cx="956.3" cy="397.8" r="2.0" fill="#c641bd"/>
<circle cx="962.2" cy="394.6" r="2.0" fill="#c641bd"/>
<circle cx="968.1" cy="394.6" r="2.0" fill="#c641bd"/>
<circle cx="974.0" cy="402.7" r="2.0" fill="#c641bd"/>
<circle cx="979.9" cy="399.7" r="2.0" fill="#c641bd"/>
<circle cx="985.8" cy="396.3" r="2.0" fill="#c641bd"/>
<circle cx="991.7" cy="391.2" r="2.0" fill="#c641bd"/>
<circle cx="997.6" cy="399.4" r="2.0" fill="#c641bd"/>
<circle cx="1003.5" cy="394.6" r="2.0" fill="#c641bd"/>
<circle cx="1009.4" cy="394.6" r="2.0" fill="#c641bd"/>
<circle cx="1015.3" cy="393.0" r="2.0" fill="#c641bd"/>
<circle cx="1021.2" cy="394.6" r="2.0" fill="#c641bd"/>
<circle cx="1027.1" cy="396.3" r="2.0" fill="#c641bd"/>
<circle cx="1033.0" cy="399.4" r="2.0" fill="#c641bd"/>
<circle cx="1038.9" cy="396.3" r="2.0" fill="#c641bd"/>
<circle cx="1044.8" cy="409.4" r="2.0" fill="#c641bd"/>
<circle cx="1050.8" cy="396.0" r="2.0" fill="#c641bd"/>
<circle cx="1056.7" cy="393.0" r="2.0" fill="#c641bd"/>
<circle cx="1062.6" cy="399.5" r="2.0" fill="#c641bd"/>
<circle cx="1068.5" cy="393.0" r="2.0" fill="#c641bd"/>
<circle cx="1074.4" cy="394.4" r="2.0" fill="#c641bd"/>
<circle cx="1080.3" cy="398.1" r="2.0" fill="#c641bd"/>
<circle cx="1086.2" cy="397.8" r="2.0" fill="#c641bd"/>
<circle cx="1092.1" cy="391.2" r="2.0" fill="#c641bd"/>
<circle cx="1098.0" cy="391.2" r="2.0" fill="#c641bd"/>
<circle cx="1103.9" cy="396.3" r="2.0" fill="#c641bd"/>
<circle cx="1109.8" cy="399.5" r="2.0" fill="#c641bd"/>
<circle cx="1115.7" cy="401.4" r="2.0" fill="#c641bd"/>
<circle cx="1121.6" cy="393.0" r="2.0" fill="#c641bd"/>
<circle cx="1127.5" cy="396.3" r="2.0" fill="#c641bd"/>
<circle cx="1133.4" cy="396.3" r="2.0" fill="#c641bd"/>
<circle cx="1139.3" cy="401.4" r="2.0" fill="#c641bd"/>
<circle cx="1145.2" cy="401.4" r="2.0" fill="#c641bd"/>
<circle cx="1151.1" cy="399.5" r="2.0" fill="#c641bd"/>
<circle cx="1157.0" cy="394.4" r="2.0" fill="#c641bd"/>
<circle cx="1162.9" cy="397.8" r="2.0" fill="#c641bd"/>
<text x="0" y="0" transform="translate(25.6,486.3) rotate(-90)" text-anchor="middle" class="axn" style="font-size:10px">FPS</text>
<text x="0" y="0" transform="translate(1189.5,465) rotate(90)" text-anchor="middle" class="axn">Jank</text>
<rect x="65" y="611" width="19.5" height="1" fill="#9fa1aa"/>
<rect x="1143.3" y="611" width="19.5" height="1" fill="#9fa1aa"/>
</svg>
<div class="wm" style="left:-28.5px;top:27.2px">PerfDog</div>
<div class="wm" style="left:331.5px;top:27.2px">PerfDog</div>
<div class="wm" style="left:691.5px;top:27.2px">PerfDog</div>
<div class="wm" style="left:1050.5px;top:27.2px">PerfDog</div>
<div class="wm" style="left:-28.5px;top:343.5px">PerfDog</div>
<div class="wm" style="left:331.5px;top:343.5px">PerfDog</div>
<div class="wm" style="left:691.5px;top:343.5px">PerfDog</div>
<div class="wm" style="left:1050.5px;top:343.5px">PerfDog</div>
</body></html>
